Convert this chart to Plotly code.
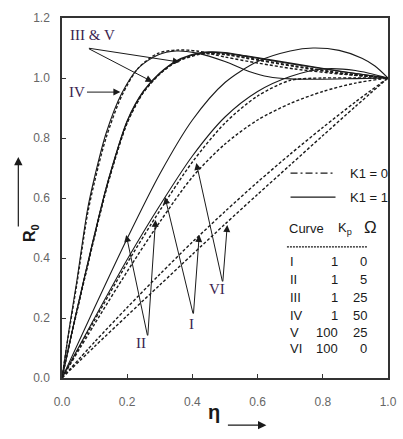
import plotly.graph_objects as go

# ---------------- data ----------------
eta_IV_1 = [0, 0.02, 0.045, 0.078, 0.1, 0.135, 0.183, 0.234, 0.294, 0.35, 0.414, 0.5, 0.574, 0.634, 0.7, 0.8, 0.9, 1.0]
R_IV_1 = [0, 0.15, 0.32, 0.56, 0.67, 0.815, 0.948, 1.033, 1.077, 1.09, 1.083, 1.055, 1.022, 1.004, 0.997, 0.996, 0.998, 1.0]

eta_IV_0 = [0, 0.02, 0.045, 0.078, 0.1, 0.135, 0.183, 0.234, 0.294, 0.35, 0.414, 0.5, 0.6, 0.715, 0.865, 1.0]
R_IV_0 = [0, 0.145, 0.31, 0.545, 0.655, 0.8, 0.94, 1.033, 1.082, 1.093, 1.09, 1.07, 1.05, 1.03, 1.012, 1.0]

eta_III = [0, 0.03, 0.069, 0.114, 0.144, 0.2, 0.25, 0.3, 0.35, 0.414, 0.45, 0.5, 0.565, 0.715, 0.865, 1.0]
R_III_1 = [0, 0.15, 0.335, 0.54, 0.665, 0.855, 0.955, 1.015, 1.055, 1.08, 1.085, 1.083, 1.072, 1.045, 1.02, 1.0]
R_III_0 = [0, 0.148, 0.33, 0.535, 0.66, 0.85, 0.952, 1.013, 1.054, 1.079, 1.083, 1.08, 1.068, 1.04, 1.016, 1.0]
R_V_1 = [0, 0.151, 0.337, 0.543, 0.668, 0.858, 0.957, 1.017, 1.057, 1.082, 1.087, 1.085, 1.074, 1.047, 1.021, 1.0]
R_V_0 = [0, 0.149, 0.332, 0.538, 0.663, 0.852, 0.953, 1.014, 1.053, 1.077, 1.081, 1.078, 1.066, 1.038, 1.014, 1.0]

eta_II_1 = [0, 0.1, 0.2, 0.3, 0.4, 0.5, 0.6, 0.7, 0.77, 0.85, 0.92, 0.96, 1.0]
R_II_1 = [0, 0.235, 0.465, 0.68, 0.86, 0.985, 1.055, 1.09, 1.10, 1.092, 1.066, 1.04, 1.0]

eta_grid = [0, 0.1, 0.2, 0.3, 0.4, 0.5, 0.6, 0.7, 0.8, 0.9, 1.0]
R_II_0 = [0, 0.193, 0.383, 0.558, 0.72, 0.85, 0.94, 0.992, 1.0, 1.0, 1.0]
R_I_1 = [0, 0.2, 0.395, 0.575, 0.74, 0.87, 0.955, 1.005, 1.03, 1.025, 1.0]
R_I_0 = [0, 0.12, 0.235, 0.346, 0.453, 0.555, 0.653, 0.746, 0.835, 0.92, 1.0]
R_VI_1 = [0, 0.18, 0.355, 0.52, 0.67, 0.78, 0.86, 0.915, 0.955, 0.983, 1.0]
R_VI_0 = [0, 0.105, 0.208, 0.31, 0.412, 0.513, 0.612, 0.71, 0.808, 0.905, 1.0]

x_ticks = [0.0, 0.2, 0.4, 0.6, 0.8, 1.0]
y_ticks = [0.0, 0.2, 0.4, 0.6, 0.8, 1.0, 1.2]

table_curves = ["I", "II", "III", "IV", "V", "VI"]
table_Kp = ["1", "1", "1", "1", "100", "100"]
table_Omega = ["0", "5", "25", "50", "25", "0"]

# ---------------- figure ----------------
SOLID = dict(color="#1a1a1a", width=1.1)
DASH = dict(color="#1a1a1a", width=1.4, dash="3px,2px")

curves = [
    (eta_IV_1, R_IV_1, SOLID), (eta_IV_0, R_IV_0, DASH),
    (eta_III, R_III_1, SOLID), (eta_III, R_III_0, DASH),
    (eta_III, R_V_1, SOLID), (eta_III, R_V_0, DASH),
    (eta_II_1, R_II_1, SOLID), (eta_grid, R_II_0, DASH),
    (eta_grid, R_I_1, SOLID), (eta_grid, R_I_0, DASH),
    (eta_grid, R_VI_1, DASH), (eta_grid, R_VI_0, DASH),
]

fig = go.Figure()
for ex, ry, ln in curves:
    fig.add_trace(go.Scatter(x=ex, y=ry, mode="lines", line=dict(shape="spline", smoothing=0.8, **ln),
                             showlegend=False, hoverinfo="skip"))

label_font = dict(family="Liberation Serif, Times New Roman, serif", size=15, color="#3b2450")
ann = []

def label(text, x, y):
    ann.append(dict(x=x, y=y, xref="x", yref="y", text=text, showarrow=False, font=label_font))

def arrow(tail, head):
    ann.append(dict(x=head[0], y=head[1], ax=tail[0], ay=tail[1], xref="x", yref="y",
                    axref="x", ayref="y", text="", showarrow=True, arrowhead=2, arrowsize=1.4,
                    arrowwidth=1, arrowcolor="#1a1a1a", standoff=0, startstandoff=0))

label("III &amp; V", 0.093, 1.143)
arrow((0.078, 1.10), (0.361, 1.053))
arrow((0.078, 1.10), (0.278, 0.987))
label("IV", 0.045, 0.953)
arrow((0.072, 0.953), (0.179, 0.953))
label("II", 0.242, 0.117)
arrow((0.263, 0.137), (0.197, 0.477))
arrow((0.263, 0.137), (0.287, 0.527))
label("I", 0.397, 0.18)
arrow((0.403, 0.21), (0.316, 0.603))
arrow((0.403, 0.21), (0.421, 0.477))
label("VI", 0.475, 0.297)
arrow((0.493, 0.317), (0.412, 0.717))
arrow((0.493, 0.317), (0.507, 0.51))

# legend (line samples + text)
tfont = dict(family="Liberation Sans, Arial, sans-serif", size=13, color="#1a1a1a")
shapes = [
    dict(type="line", xref="x", yref="y", x0=0.701, x1=0.839, y0=0.683, y1=0.683,
         line=dict(color="#1a1a1a", width=1.1, dash="7px,3px,2px,3px")),
    dict(type="line", xref="x", yref="y", x0=0.701, x1=0.839, y0=0.603, y1=0.603,
         line=dict(color="#1a1a1a", width=1.2)),
    dict(type="line", xref="x", yref="y", x0=0.69, x1=0.937, y0=0.437, y1=0.437,
         line=dict(color="#1a1a1a", width=1.2, dash="2px,1px")),
]
ann.append(dict(x=0.878, y=0.683, xref="x", yref="y", text="K1 = 0", showarrow=False,
                xanchor="left", font=tfont))
ann.append(dict(x=0.878, y=0.603, xref="x", yref="y", text="K1 = 1", showarrow=False,
                xanchor="left", font=tfont))
ann.append(dict(x=0.69, y=0.5, xref="x", yref="y", text="Curve", showarrow=False,
                xanchor="left", font=tfont))
ann.append(dict(x=0.869, y=0.5, xref="x", yref="y", text="K<sub>p</sub>", showarrow=False,
                font=tfont))
ann.append(dict(x=0.946, y=0.503, xref="x", yref="y", text="Ω", showarrow=False,
                font=dict(family="Liberation Sans, Arial, sans-serif", size=17, color="#1a1a1a")))
row_y = [0.387, 0.33, 0.267, 0.21, 0.153, 0.1]
for cname, kp, om, yy in zip(table_curves, table_Kp, table_Omega, row_y):
    ann.append(dict(x=0.693, y=yy, xref="x", yref="y", text=cname, showarrow=False,
                    xanchor="left", font=tfont))
    ann.append(dict(x=0.854, y=yy, xref="x", yref="y", text=kp, showarrow=False,
                    xanchor="right", font=tfont))
    ann.append(dict(x=0.943, y=yy, xref="x", yref="y", text=om, showarrow=False,
                    xanchor="right", font=tfont))

# axis titles with arrows (paper coords, arrow tails in pixels)
ann.append(dict(x=0.466, y=-0.131, xref="paper", yref="paper", text="<b>η</b>", showarrow=False,
                font=dict(family="Liberation Sans, Arial, sans-serif", size=20, color="#1a1a1a")))
ann.append(dict(x=0.627, y=-0.131, ax=-40, ay=0, xref="paper", yref="paper",
                axref="pixel", ayref="pixel", text="", showarrow=True, arrowhead=2,
                arrowsize=1.4, arrowwidth=1.2, arrowcolor="#1a1a1a", standoff=0, startstandoff=0))
ann.append(dict(x=-0.13, y=0.403, xref="paper", yref="paper", text="<b>R<sub>0</sub></b>",
                showarrow=False, textangle=-90,
                font=dict(family="Liberation Sans, Arial, sans-serif", size=16, color="#1a1a1a")))
ann.append(dict(x=-0.134, y=0.614, ax=0, ay=71, xref="paper", yref="paper",
                axref="pixel", ayref="pixel", text="", showarrow=True, arrowhead=2,
                arrowsize=1.4, arrowwidth=1.2, arrowcolor="#1a1a1a", standoff=0, startstandoff=0))

axis_common = dict(showline=True, linecolor="#333333", linewidth=1.5, mirror=True,
                   ticks="inside", ticklen=4, tickcolor="#333333", showgrid=False, zeroline=False,
                   tickfont=dict(family="Liberation Sans, Arial, sans-serif", size=12, color="#666666"),
                   tickformat=".1f", ticklabeloverflow="allow")

fig.update_layout(
    width=403, height=439,
    margin=dict(l=62, r=6, t=18, b=61),
    paper_bgcolor="white", plot_bgcolor="white",
    xaxis=dict(range=[0, 1], tickvals=x_ticks, ticklabelstandoff=12, **axis_common),
    yaxis=dict(range=[0, 1.2], tickvals=y_ticks, ticklabelstandoff=8, **axis_common),
    annotations=ann, shapes=shapes, showlegend=False,
)

fig.write_html("out.html")
